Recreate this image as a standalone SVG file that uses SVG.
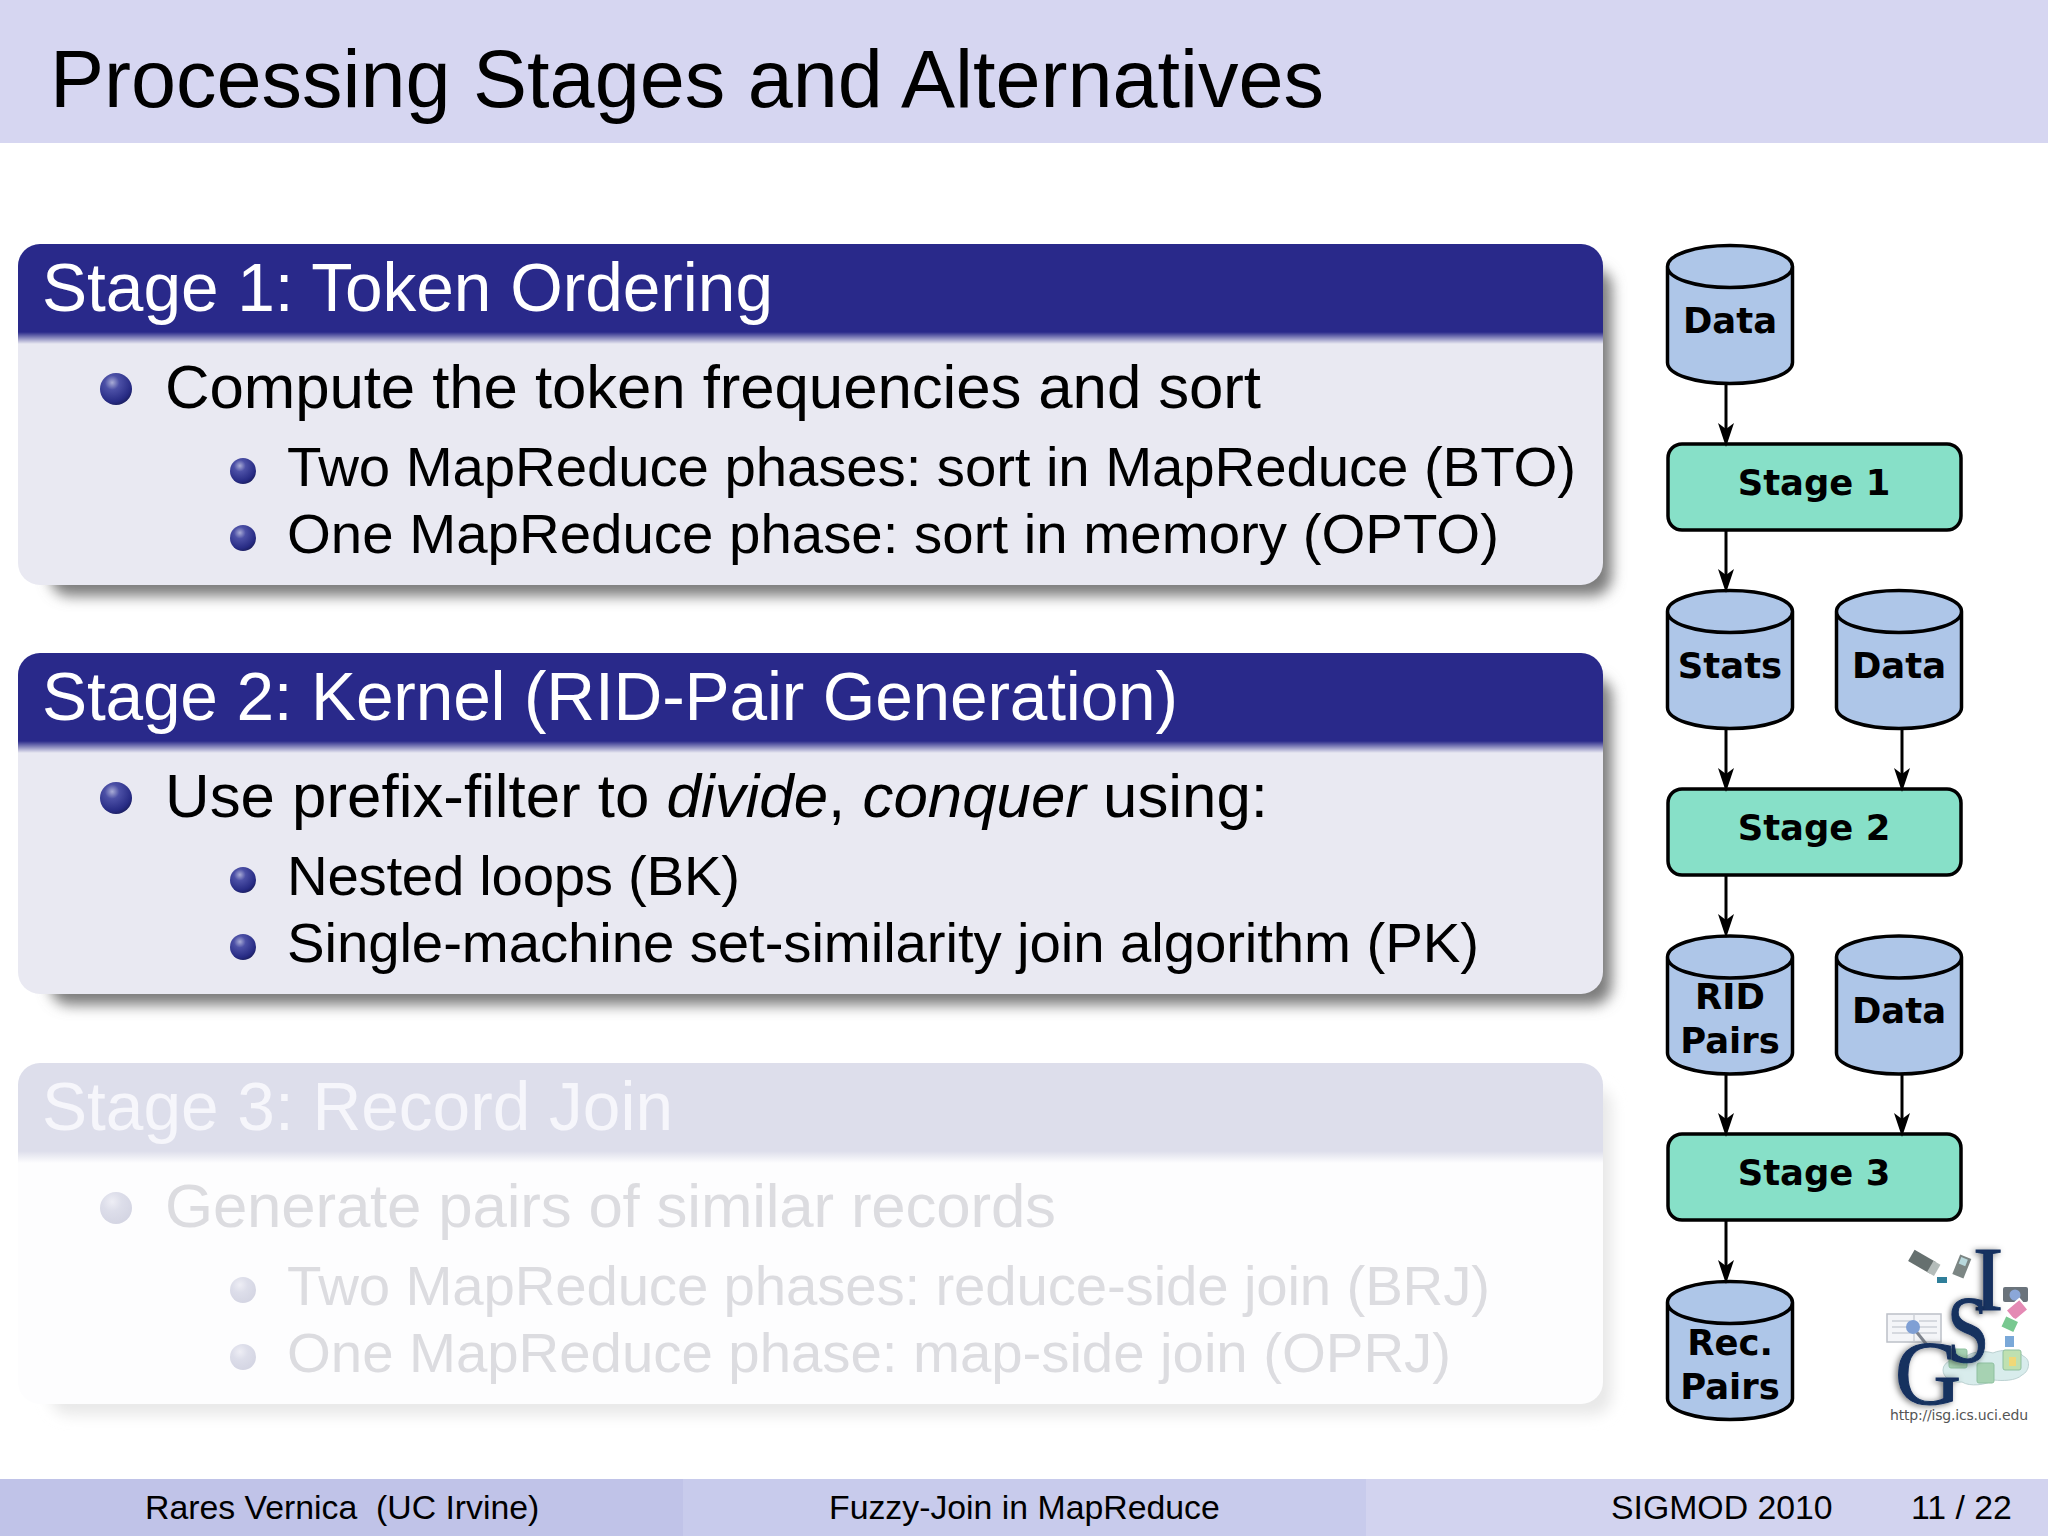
<svg xmlns="http://www.w3.org/2000/svg" width="2048" height="1536" viewBox="0 0 2048 1536">
<style>
text{font-family:"Liberation Sans",Arial,sans-serif}
.h{font-size:67.6px}.m{font-size:61.8px}.s{font-size:56.4px}
.f{font-size:33.8px;fill:#000}
.n{font-family:"DejaVu Sans",sans-serif;font-weight:bold;font-size:35.4px;fill:#000;text-anchor:middle}
.c{fill:#aec6e8;stroke:#000;stroke-width:3.5}
.b{fill:#87e0c8;stroke:#000;stroke-width:3.5}
.e{fill:none;stroke:#000;stroke-width:3}
.lg{font-family:"Liberation Serif",serif;fill:#14305f;stroke:#14305f;stroke-width:1;text-anchor:middle;filter:url(#ds)}
</style>
<defs>
<radialGradient id="bul" cx="0.38" cy="0.3" r="0.75"><stop offset="0" stop-color="#a9acd6"/><stop offset="0.3" stop-color="#4c50a6"/><stop offset="0.8" stop-color="#272b84"/><stop offset="1" stop-color="#1a1d5c"/></radialGradient>
<radialGradient id="bulf" cx="0.38" cy="0.3" r="0.75"><stop offset="0" stop-color="#eeeef5"/><stop offset="0.4" stop-color="#dddeea"/><stop offset="1" stop-color="#d3d4e2"/></radialGradient>
<linearGradient id="hg" x1="0" y1="0" x2="0" y2="1"><stop offset="0" stop-color="#29298a"/><stop offset="1" stop-color="#e9e9f2"/></linearGradient>
<linearGradient id="hgf" x1="0" y1="0" x2="0" y2="1"><stop offset="0" stop-color="#dddeeb"/><stop offset="1" stop-color="#fdfdfe"/></linearGradient>
<filter id="blur" x="-5%" y="-10%" width="110%" height="120%"><feGaussianBlur stdDeviation="7"/></filter>
<filter id="ds" x="-30%" y="-30%" width="160%" height="160%"><feDropShadow dx="-2" dy="1" stdDeviation="3" flood-color="#000" flood-opacity="0.55"/></filter>
<marker id="arr" markerUnits="userSpaceOnUse" markerWidth="26" markerHeight="16" refX="17" refY="8" orient="auto" viewBox="0 0 26 16"><path d="M24 8 L0 0 L6 8 L0 16 Z" fill="#000"/></marker>
<g id="cyl"><path class="c" d="M0 21 V117 C0 129 28 138 62.5 138 C97 138 125 129 125 117 V21 C125 9 97 0 62.5 0 C28 0 0 9 0 21 C0 33 28 42 62.5 42 C97 42 125 33 125 21"/></g>
<clipPath id="bc"><rect x="18" y="0" width="1585" height="341" rx="22"/></clipPath>
</defs>
<rect width="2048" height="1536" fill="#fff"/>
<g id="title-bar"><rect width="2048" height="143" fill="#d6d6f1"/><text x="50" y="107" font-size="81" textLength="1274">Processing Stages and Alternatives</text></g>

<g id="block1" transform="translate(0,244)">
<rect x="50" y="24" width="1562" height="328" rx="20" fill="#7c7c7c" filter="url(#blur)"/>
<g clip-path="url(#bc)"><rect x="18" width="1585" height="341" fill="#e9e9f2"/><rect x="18" width="1585" height="88" fill="#29298a"/><rect x="18" y="88" width="1585" height="12" fill="url(#hg)"/></g>
<text class="h" x="42" y="67" fill="#fff" textLength="731">Stage 1: Token Ordering</text>
<circle cx="116" cy="145" r="16" fill="url(#bul)"/><text class="m" x="165" y="164" textLength="1096">Compute the token frequencies and sort</text>
<circle cx="243" cy="227" r="13" fill="url(#bul)"/><text class="s" x="287" y="242" textLength="1289">Two MapReduce phases: sort in MapReduce (BTO)</text>
<circle cx="243" cy="294" r="13" fill="url(#bul)"/><text class="s" x="287" y="309" textLength="1212">One MapReduce phase: sort in memory (OPTO)</text>
</g>

<g id="block2" transform="translate(0,653)">
<rect x="50" y="24" width="1562" height="328" rx="20" fill="#7c7c7c" filter="url(#blur)"/>
<g clip-path="url(#bc)"><rect x="18" width="1585" height="341" fill="#e9e9f2"/><rect x="18" width="1585" height="88" fill="#29298a"/><rect x="18" y="88" width="1585" height="12" fill="url(#hg)"/></g>
<text class="h" x="42" y="67" fill="#fff" textLength="1136">Stage 2: Kernel (RID-Pair Generation)</text>
<circle cx="116" cy="145" r="16" fill="url(#bul)"/><text class="m" x="165" y="164" textLength="1103">Use prefix-filter to <tspan font-style="italic">divide</tspan>, <tspan font-style="italic">conquer</tspan> using:</text>
<circle cx="243" cy="227" r="13" fill="url(#bul)"/><text class="s" x="287" y="242" textLength="453">Nested loops (BK)</text>
<circle cx="243" cy="294" r="13" fill="url(#bul)"/><text class="s" x="287" y="309" textLength="1192">Single-machine set-similarity join algorithm (PK)</text>
</g>

<g id="block3" transform="translate(0,1063)">
<rect x="50" y="24" width="1562" height="328" rx="20" fill="#e8e8e8" filter="url(#blur)"/>
<g clip-path="url(#bc)"><rect x="18" width="1585" height="341" fill="#fdfdfe"/><rect x="18" width="1585" height="88" fill="#dddeeb"/><rect x="18" y="88" width="1585" height="12" fill="url(#hgf)"/></g>
<text class="h" x="42" y="67" fill="#f6f6fb" textLength="631">Stage 3: Record Join</text>
<circle cx="116" cy="145" r="16" fill="url(#bulf)"/><text class="m" x="165" y="164" fill="#dcdce0" textLength="891">Generate pairs of similar records</text>
<circle cx="243" cy="227" r="13" fill="url(#bulf)"/><text class="s" x="287" y="242" fill="#dcdce0" textLength="1203">Two MapReduce phases: reduce-side join (BRJ)</text>
<circle cx="243" cy="294" r="13" fill="url(#bulf)"/><text class="s" x="287" y="309" fill="#dcdce0" textLength="1164">One MapReduce phase: map-side join (OPRJ)</text>
</g>

<g id="n-data1"><use href="#cyl" x="1667.5" y="245.5"/><text class="n" x="1730" y="333">Data</text></g>
<g id="n-stage1"><rect class="b" x="1668" y="444" width="293" height="86" rx="14"/><text class="n" x="1814" y="495">Stage 1</text></g>
<g id="n-stats"><use href="#cyl" x="1667.5" y="590.5"/><text class="n" x="1730" y="678">Stats</text></g>
<g id="n-data2"><use href="#cyl" x="1836.5" y="590.5"/><text class="n" x="1899" y="678">Data</text></g>
<g id="n-stage2"><rect class="b" x="1668" y="789" width="293" height="86" rx="14"/><text class="n" x="1814" y="840">Stage 2</text></g>
<g id="n-rid"><use href="#cyl" x="1667.5" y="936"/><text class="n" x="1730" y="1009">RID</text><text class="n" x="1730" y="1053">Pairs</text></g>
<g id="n-data3"><use href="#cyl" x="1836.5" y="936"/><text class="n" x="1899" y="1023">Data</text></g>
<g id="n-stage3"><rect class="b" x="1668" y="1134" width="293" height="86" rx="14"/><text class="n" x="1814" y="1185">Stage 3</text></g>
<g id="n-rec"><use href="#cyl" x="1667.5" y="1281.5"/><text class="n" x="1730" y="1355">Rec.</text><text class="n" x="1730" y="1399">Pairs</text></g>

<g id="connectors">
<path class="e" marker-end="url(#arr)" d="M1726 384V440"/>
<path class="e" marker-end="url(#arr)" d="M1726 531V586"/>
<path class="e" marker-end="url(#arr)" d="M1726 729V785"/>
<path class="e" marker-end="url(#arr)" d="M1902 729V785"/>
<path class="e" marker-end="url(#arr)" d="M1726 876V931"/>
<path class="e" marker-end="url(#arr)" d="M1726 1074V1130"/>
<path class="e" marker-end="url(#arr)" d="M1902 1074V1130"/>
<path class="e" marker-end="url(#arr)" d="M1726 1221V1277"/>
</g>

<g id="logo">
<rect x="1887" y="1314" width="54" height="28" fill="#f4f5f8" stroke="#bcc0c8" stroke-width="1.5"/><path d="M1914 1314v28M1892 1321h18M1892 1327h18M1892 1333h18M1919 1321h18M1919 1327h18M1919 1333h18" stroke="#ccd0d6" stroke-width="1.5"/>
<path d="M1915 1330l12 15" stroke="#7f858f" stroke-width="3"/>
<circle cx="1913" cy="1327" r="7" fill="#7f9fd4"/>
<path d="M1943 1370c0-9 12-12 22-12 4-6 18-8 28-5 8-4 26-4 30 3 8 3 7 15-1 19-6 6-20 6-28 5-8 5-24 7-32 2-10 1-19-4-19-12z" fill="#d8ecec" stroke="#bcd2d2"/>
<rect x="1949" y="1349" width="18" height="19" rx="2" fill="#a6d2b2" stroke="#8fc0a0"/><rect x="1977" y="1363" width="17" height="20" rx="2" fill="#a6d2b2" stroke="#8fc0a0"/><rect x="2003" y="1350" width="18" height="20" rx="2" fill="#bfe0b0" stroke="#8fc0a0"/><rect x="2009" y="1357" width="7" height="9" fill="#f0d878"/>
<rect x="1910" y="1255" width="25" height="13" fill="#66706f" transform="rotate(30 1922 1261)"/><rect x="1930" y="1262" width="8" height="13" fill="#b4bcba" transform="rotate(30 1934 1268)"/>
<rect x="1956" y="1256" width="12" height="21" fill="#7c8684" transform="rotate(22 1962 1266)"/><rect x="1960" y="1258" width="7" height="7" fill="#b8d8dc" transform="rotate(22 1963 1261)"/>
<rect x="1937" y="1277" width="10" height="6" fill="#2f7f9a"/>
<rect x="2003" y="1287" width="25" height="15" rx="2" fill="#6a737b"/><circle cx="2015" cy="1295" r="5.5" fill="#8ba7d8"/>
<rect x="2008" y="1303" width="18" height="14" fill="#e48ab4" stroke="#fff" stroke-width="2" transform="rotate(-40 2017 1310)"/><rect x="2002" y="1318" width="15" height="13" fill="#78c890" stroke="#fff" stroke-width="2" transform="rotate(25 2010 1325)"/><rect x="2005" y="1336" width="9" height="11" fill="#7aa8d8"/>
<text class="lg" x="1988" y="1310" font-size="92">I</text>
<text class="lg" transform="translate(1968 1362) scale(.8 1)" font-size="96">S</text>
<text class="lg" x="1928" y="1404" font-size="92">G</text>
<text x="1890" y="1420" font-size="14" fill="#555" style="font-family:'DejaVu Sans',sans-serif" textLength="138">http://isg.ics.uci.edu</text>
</g>

<g id="footer">
<rect y="1479" width="683" height="57" fill="#c0c3e8"/><rect x="683" y="1479" width="683" height="57" fill="#c8cbec"/><rect x="1366" y="1479" width="682" height="57" fill="#d2d3ef"/>
<text class="f" x="145" y="1519">Rares Vernica<tspan x="376">(UC Irvine)</tspan></text>
<text class="f" x="829" y="1519">Fuzzy-Join in MapReduce</text>
<text class="f" x="1611" y="1519">SIGMOD 2010</text>
<text class="f" x="1911" y="1519">11 / 22</text>
</g>
</svg>
